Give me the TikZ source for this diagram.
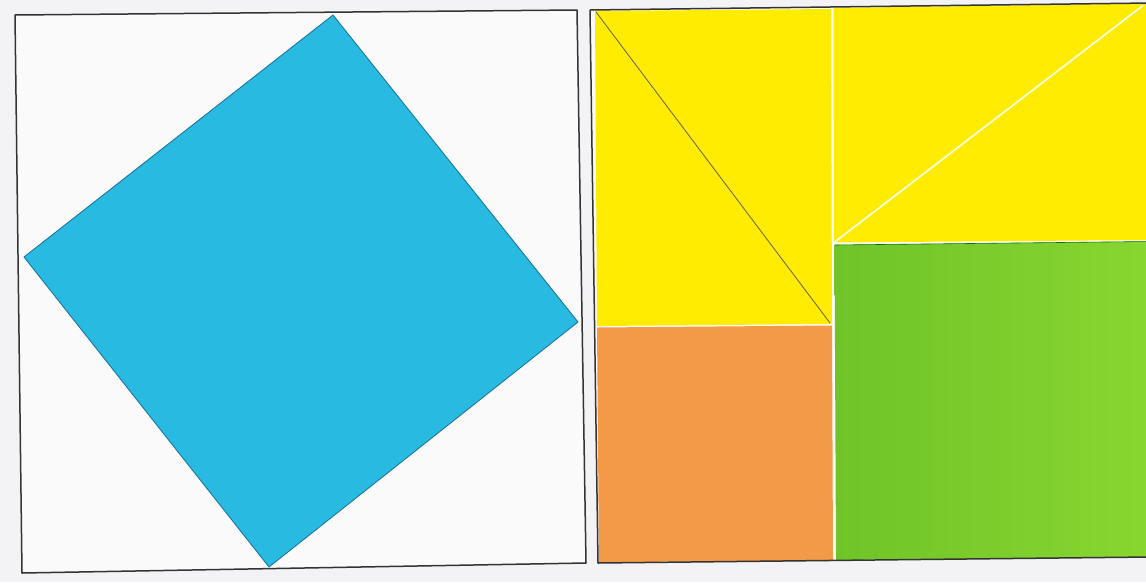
\documentclass[tikz,border=0pt]{standalone}
\begin{document}
\begin{tikzpicture}[x=1pt,y=-1pt,
  frameline/.style={draw=black!80,line width=1.5pt,line join=round},
  piece/.style={line width=0pt},
  gapline/.style={draw=white!96!yellow,line width=1.6pt}]
\definecolor{bg}{RGB}{243,243,246}
\definecolor{sqblue}{RGB}{40,186,224}
\definecolor{sqedge}{RGB}{24,110,150}
\definecolor{tyellow}{RGB}{255,236,0}
\definecolor{torange}{RGB}{242,154,72}
\definecolor{gleft}{RGB}{112,196,40}
\definecolor{gright}{RGB}{136,214,48}
\useasboundingbox (0,0) rectangle (1146,582);
\fill[bg] (0,0) rectangle (1146,582);
% left panel
\coordinate (lTL) at (15,15);
\coordinate (lTR) at (577,10);
\coordinate (lBR) at (586,563);
\coordinate (lBL) at (22,573);
\fill[white!60!bg] (lTL) -- (lTR) -- (lBR) -- (lBL) -- cycle;
\draw[frameline] (lTL) -- (lTR) -- (lBR) -- (lBL) -- cycle;
\coordinate (bT) at (333,15);
\coordinate (bR) at (578,322);
\coordinate (bB) at (269,567);
\coordinate (bL) at (24,257);
\filldraw[fill=sqblue,draw=sqedge,line width=0.8pt,line join=round] (bT) -- (bR) -- (bB) -- (bL) -- cycle;
% right panel
\coordinate (rTL) at (590,10);
\coordinate (rBL) at (598,563);
\coordinate (rTR) at (1150,3);
\coordinate (rBR) at (1150,557);
\fill[white!70!bg] (rTL) -- (rTR) -- (rBR) -- (rBL) -- cycle;
% pieces
\coordinate (yA) at (595,11);
\coordinate (yB) at (831,9);
\coordinate (yC) at (832,324);
\coordinate (yD) at (597,326);
\fill[tyellow,piece] (yA) -- (yB) -- (yC) -- (yD) -- cycle;
\coordinate (oA) at (597,327.5);
\coordinate (oB) at (832,325.5);
\coordinate (oC) at (833,561);
\coordinate (oD) at (599,562);
\fill[torange,piece] (oA) -- (oB) -- (oC) -- (oD) -- cycle;
\coordinate (tA) at (833.5,8);
\coordinate (tB) at (1150,3.5);
\coordinate (tC) at (1150,240);
\coordinate (tD) at (834,242.5);
\fill[tyellow,piece] (tA) -- (tB) -- (tC) -- (tD) -- cycle;
\coordinate (gA) at (834.5,245);
\coordinate (gB) at (1150,241.5);
\coordinate (gC) at (1150,557);
\coordinate (gD) at (836,560);
\shade[piece,left color=gleft,right color=gright] (gA) -- (gB) -- (gC) -- (gD) -- cycle;
% cut lines
\draw[gapline] (tD) -- (1143,5.5);
\draw[draw=black!70!yellow,line width=0.8pt] (596,12) -- (830,323);
\draw[draw=black!55!green,line width=0.6pt] (gA) -- (gB);
\draw[frameline] (rTR) -- (rTL) -- (rBL) -- (rBR);
\end{tikzpicture}
\end{document}
